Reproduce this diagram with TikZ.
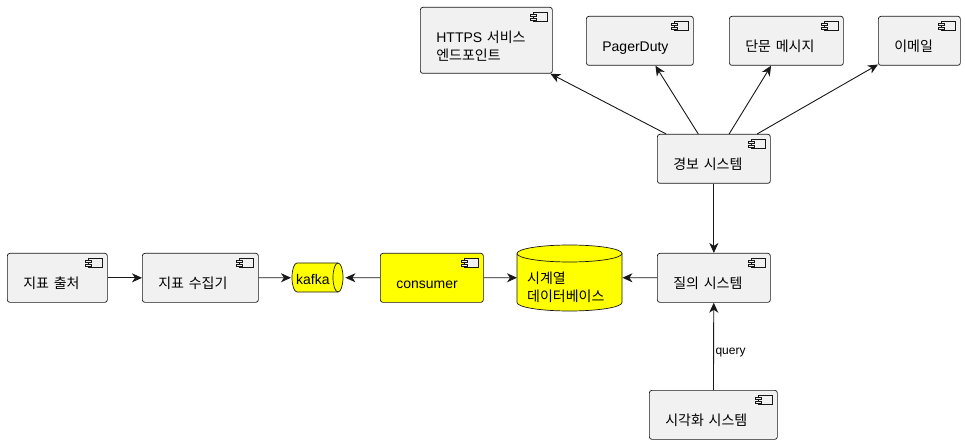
\documentclass[tikz,border=0pt]{standalone}
\usepackage{fontspec}
\setmainfont{Liberation Sans}
\newfontfamily\kr{Noto Sans CJK KR}
\usetikzlibrary{arrows.meta}
\definecolor{boxfill}{HTML}{F1F1F1}
\definecolor{edge}{HTML}{181818}
\definecolor{hilite}{HTML}{FFFF00}
\tikzset{
  comp/.style={draw=edge, line width=0.7pt, fill=boxfill, rounded corners=2.5pt,
    anchor=north west, inner xsep=16pt, inner ysep=0pt, align=left,
    font=\fontsize{14pt}{18pt}\selectfont, text height=35pt, text depth=14pt,
    path picture={
      \draw[sharp corners, fill=boxfill] ([xshift=-19pt,yshift=-5pt]path picture bounding box.north east) rectangle ++(14,-9);
      \draw[sharp corners, fill=boxfill] ([xshift=-22pt,yshift=-7pt]path picture bounding box.north east) rectangle ++(6,-2);
      \draw[sharp corners, fill=boxfill] ([xshift=-22pt,yshift=-11pt]path picture bounding box.north east) rectangle ++(6,-2);
    }},
  twoline/.style={text height=35pt, text depth=31pt},
  store/.style={inner xsep=0pt, inner ysep=0pt, align=left,
    font=\fontsize{14pt}{18pt}\selectfont},
  link/.style={draw=edge, line width=0.9pt, -{Stealth[length=10pt,width=9pt,inset=3pt]}},
  qlab/.style={anchor=west, inner sep=1.5pt, font=\fontsize{12pt}{14pt}\selectfont}
}
\begin{document}
\begin{tikzpicture}[x=1pt,y=1pt]
\useasboundingbox (0,0) rectangle (965,-443);
\draw [edge, line width=0.7pt, fill=hilite] (297,-263) arc (90:270:5 and 14.5) -- (338,-292) arc (-90:90:5 and 14.5) -- cycle;
\draw [edge, line width=0.7pt] (338,-263) arc (90:270:5 and 14.5);
\draw [edge, line width=0.7pt, fill=hilite] (517,-253.5) -- (517,-302.5) arc (180:360:52.5 and 8.5) -- (622,-253.5) arc (0:180:52.5 and 8.5) -- cycle;
\draw [edge, line width=0.7pt] (517,-253.5) arc (180:360:52.5 and 8.5);
\node [comp, text width=68pt] (src) at (7,-253) {\kr 지표 출처};
\node [comp, text width=84pt] (coll) at (142,-253) {\kr 지표 수집기};
\node [store, anchor=north west, text width=44pt, inner xsep=5pt, text height=21pt, text depth=8pt] (kafka) at (291,-263) {kafka};
\node [comp, fill=hilite, text width=71pt] (cons) at (380,-253) {consumer};
\node [store, anchor=north west, text width=85pt, inner xsep=10pt, text height=39pt, text depth=28pt] (db) at (517,-244) {\kr 시계열\\\kr 데이터베이스};
\node [comp, text width=81pt] (query) at (657,-253) {\kr 질의 시스템};
\node [comp, text width=81pt] (alert) at (657,-134) {\kr 경보 시스템};
\node [comp, text width=96pt] (vis) at (649,-390) {\kr 시각화 시스템};
\node [comp, twoline, text width=100pt] (https) at (420,-7) {HTTPS {\kr 서비스}\\\kr 엔드포인트};
\node [comp, text width=75pt] (pd) at (586,-16) {PagerDuty};
\node [comp, text width=82pt] (sms) at (729,-16) {\kr 단문 메시지};
\node [comp, text width=50pt] (mail) at (878,-16) {\kr 이메일};
\draw [link] (src) -- (coll);
\draw [link] (coll) -- (kafka);
\draw [link] (cons) -- (kafka);
\draw [link] (cons) -- (db);
\draw [link] (query) -- (db);
\draw [link] (alert) -- (query);
\draw [link] (vis) -- node [qlab, pos=0.43] {query} (query);
\draw [link] (alert) -- (https);
\draw [link] (alert) -- (pd);
\draw [link] (alert) -- (sms);
\draw [link] (alert) -- (mail);
\end{tikzpicture}
\end{document}
